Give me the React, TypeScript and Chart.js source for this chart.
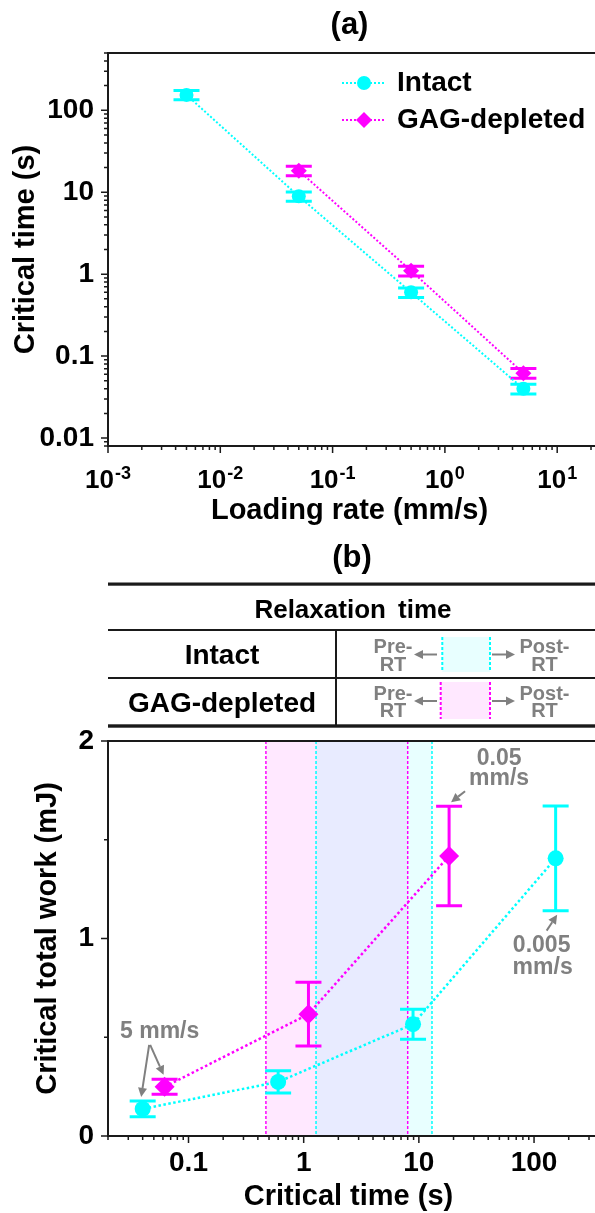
import React, { useEffect, useRef } from 'react';
import { Chart, registerables } from 'chart.js';

Chart.register(...registerables);

const FAMILY = '"Liberation Sans", Arial, Helvetica, sans-serif';
const CYAN = '#00ffff';
const MAGENTA = '#ff00ff';
const GRAY = '#808080';
const INK = '#1a1a1a';

// ---------------- data: panel (a) ----------------
const loadingRates = [0.005, 0.05, 0.5, 5];
const intactTime = [154, 8.9, 0.6, 0.04];
const intactTimeErr = [20, 1.15, 0.08, 0.0055];
const gagRates = [0.05, 0.5, 5];
const gagTime = [18.3, 1.1, 0.062];
const gagTimeErr = [2.4, 0.15, 0.0085];
const aXTicks = [0.001, 0.01, 0.1, 1, 10];
const aXTickExp = ['-3', '-2', '-1', '0', '1'];
const aYTicks = [0.01, 0.1, 1, 10, 100];
const aYTickLabels = ['0.01', '0.1', '1', '10', '100'];

// ---------------- data: panel (b) ----------------
const intactWork = [1.406, 0.566, 0.274, 0.137];
const intactWorkErr = [0.265, 0.076, 0.056, 0.04];
const gagWork = [1.418, 0.617, 0.249];
const gagWorkErr = [0.252, 0.161, 0.038];
const intactRT = [1.28, 13];
const gagRT = [0.47, 8.0];
const bXTicks = [0.1, 1, 10, 100];
const bXTickLabels = ['0.1', '1', '10', '100'];
const bYTicks = [0, 1, 2];
const bYTickLabels = ['0', '1', '2'];
const bYMinor = [0.5, 1.5];

const A_X = [0.001, 20];
const A_Y = [0.008, 500];
const B_X = [0.02, 300];
const B_Y = [0, 2];

type TickV = { v: number; major: boolean };

function logTickValues(min: number, max: number): TickV[] {
  const out: TickV[] = [];
  const e0 = Math.floor(Math.log10(min));
  const e1 = Math.ceil(Math.log10(max));
  for (let e = e0; e <= e1; e++) {
    for (let m = 1; m < 10; m++) {
      const v = m * Math.pow(10, e);
      if (v >= min * 0.9999 && v <= max * 1.0001) out.push({ v, major: m === 1 });
    }
  }
  return out;
}

function drawArrow(ctx: CanvasRenderingContext2D, x0: number, y0: number, x1: number, y1: number) {
  const head = 9;
  const half = 4.5;
  const ang = Math.atan2(y1 - y0, x1 - x0);
  const bx = x1 - Math.cos(ang) * head;
  const by = y1 - Math.sin(ang) * head;
  ctx.save();
  ctx.strokeStyle = GRAY;
  ctx.fillStyle = GRAY;
  ctx.lineWidth = 2;
  ctx.setLineDash([]);
  ctx.beginPath();
  ctx.moveTo(x0, y0);
  ctx.lineTo(bx, by);
  ctx.stroke();
  ctx.beginPath();
  ctx.moveTo(x1, y1);
  ctx.lineTo(bx + Math.sin(ang) * half, by - Math.cos(ang) * half);
  ctx.lineTo(bx - Math.sin(ang) * half, by + Math.cos(ang) * half);
  ctx.closePath();
  ctx.fill();
  ctx.restore();
}

function drawMarker(ctx: CanvasRenderingContext2D, style: string, x: number, y: number, r: number, color: string) {
  ctx.save();
  ctx.fillStyle = color;
  ctx.beginPath();
  if (style === 'circle') {
    ctx.arc(x, y, r, 0, Math.PI * 2);
  } else {
    ctx.moveTo(x, y - r);
    ctx.lineTo(x + r, y);
    ctx.lineTo(x, y + r);
    ctx.lineTo(x - r, y);
    ctx.closePath();
  }
  ctx.fill();
  ctx.restore();
}

function drawErrorBars(chart: any, xs: number[], ys: number[], es: number[], color: string, capHalf: number) {
  const { ctx, scales } = chart;
  const x = scales.x;
  const y = scales.y;
  ctx.save();
  ctx.strokeStyle = color;
  ctx.lineWidth = 3;
  ctx.setLineDash([]);
  xs.forEach((xv, i) => {
    const px = x.getPixelForValue(xv);
    const top = y.getPixelForValue(ys[i] + es[i]);
    const bot = y.getPixelForValue(ys[i] - es[i]);
    ctx.beginPath();
    ctx.moveTo(px, top);
    ctx.lineTo(px, bot);
    ctx.moveTo(px - capHalf, top);
    ctx.lineTo(px + capHalf, top);
    ctx.moveTo(px - capHalf, bot);
    ctx.lineTo(px + capHalf, bot);
    ctx.stroke();
  });
  ctx.restore();
}

function drawFrame(chart: any, xTicks: TickV[], yTicks: TickV[]) {
  const { ctx, chartArea: ca, scales } = chart;
  const x = scales.x;
  const y = scales.y;
  ctx.save();
  ctx.setLineDash([]);
  ctx.strokeStyle = INK;
  ctx.lineWidth = 2;
  ctx.beginPath();
  ctx.moveTo(ca.left, ca.top);
  ctx.lineTo(chart.width, ca.top);
  ctx.moveTo(ca.left, ca.top - 1);
  ctx.lineTo(ca.left, ca.bottom + 1);
  ctx.moveTo(ca.left - 1, ca.bottom);
  ctx.lineTo(chart.width, ca.bottom);
  ctx.stroke();
  ctx.lineWidth = 1.5;
  ctx.beginPath();
  for (const t of xTicks) {
    const px = x.getPixelForValue(t.v);
    ctx.moveTo(px, ca.bottom);
    ctx.lineTo(px, ca.bottom + (t.major ? 7 : 4));
  }
  for (const t of yTicks) {
    const py = y.getPixelForValue(t.v);
    ctx.moveTo(ca.left, py);
    ctx.lineTo(ca.left - (t.major ? 7 : 4), py);
  }
  ctx.stroke();
  ctx.restore();
}

const tickFont = { family: FAMILY, size: 28, weight: 'bold' as const };
const titleFont = { family: FAMILY, size: 29, weight: 'bold' as const };

function makeChartA(canvas: HTMLCanvasElement) {
  const plugin = {
    id: 'panelA',
    beforeDatasetsDraw(chart: any) {
      drawErrorBars(chart, loadingRates, intactTime, intactTimeErr, CYAN, 13);
      drawErrorBars(chart, gagRates, gagTime, gagTimeErr, MAGENTA, 13);
    },
    afterDraw(chart: any) {
      const { ctx, chartArea: ca, scales } = chart;
      drawFrame(chart, logTickValues(A_X[0], A_X[1]), logTickValues(A_Y[0], A_Y[1]));
      // superscript x tick labels
      ctx.save();
      ctx.fillStyle = '#000';
      ctx.textBaseline = 'alphabetic';
      ctx.textAlign = 'left';
      const base = `bold 26px ${FAMILY}`;
      const sup = `bold 18px ${FAMILY}`;
      aXTicks.forEach((v, i) => {
        const px = scales.x.getPixelForValue(v);
        ctx.font = base;
        const wb = ctx.measureText('10').width;
        ctx.font = sup;
        const we = ctx.measureText(aXTickExp[i]).width;
        const start = px - (wb + 1 + we) / 2;
        ctx.font = base;
        ctx.fillText('10', start, ca.bottom + 42);
        ctx.font = sup;
        ctx.fillText(aXTickExp[i], start + wb + 1, ca.bottom + 33);
      });
      // panel label
      ctx.textAlign = 'center';
      ctx.textBaseline = 'middle';
      ctx.font = `bold 31px ${FAMILY}`;
      ctx.fillText('(a)', (ca.left + ca.right) / 2, 25);
      // legend
      const entries = [
        { label: 'Intact', color: CYAN, style: 'circle', r: 7, y: 83 },
        { label: 'GAG-depleted', color: MAGENTA, style: 'diamond', r: 8, y: 120 },
      ];
      for (const e of entries) {
        ctx.save();
        ctx.strokeStyle = e.color;
        ctx.lineWidth = 2;
        ctx.setLineDash([2, 2]);
        ctx.beginPath();
        ctx.moveTo(342, e.y);
        ctx.lineTo(386, e.y);
        ctx.stroke();
        ctx.restore();
        drawMarker(ctx, e.style, 364, e.y, e.r, e.color);
        ctx.fillStyle = '#000';
        ctx.font = `bold 28px ${FAMILY}`;
        ctx.textAlign = 'left';
        ctx.textBaseline = 'middle';
        ctx.fillText(e.label, 397, e.y);
      }
      ctx.restore();
    },
  };

  return new Chart(canvas, {
    type: 'scatter',
    data: {
      datasets: [
        {
          label: 'Intact',
          data: loadingRates.map((r, i) => ({ x: r, y: intactTime[i] })),
          showLine: true,
          borderColor: CYAN,
          backgroundColor: CYAN,
          borderWidth: 2,
          borderDash: [2, 2],
          pointStyle: 'circle',
          pointRadius: 7,
          pointBorderWidth: 0,
          pointBackgroundColor: CYAN,
        },
        {
          label: 'GAG-depleted',
          data: gagRates.map((r, i) => ({ x: r, y: gagTime[i] })),
          showLine: true,
          borderColor: MAGENTA,
          backgroundColor: MAGENTA,
          borderWidth: 2,
          borderDash: [2, 2],
          pointStyle: 'rectRot',
          pointRadius: 8,
          pointBorderWidth: 0,
          pointBackgroundColor: MAGENTA,
        },
      ],
    },
    options: {
      responsive: false,
      animation: false,
      devicePixelRatio: 1,
      events: [],
      layout: { padding: { top: 53, left: 0, right: 0, bottom: 0 } },
      plugins: { legend: { display: false }, tooltip: { enabled: false }, title: { display: false } },
      scales: {
        x: {
          type: 'logarithmic',
          position: 'bottom',
          min: A_X[0],
          max: A_X[1],
          grid: { display: false, drawTicks: false },
          border: { display: false },
          ticks: { display: false },
          title: {
            display: true,
            text: 'Loading rate (mm/s)',
            color: '#000',
            font: titleFont,
            padding: { top: 0, bottom: 12 },
          },
          afterFit: (s: any) => {
            s.height = 94;
          },
        },
        y: {
          type: 'logarithmic',
          position: 'left',
          min: A_Y[0],
          max: A_Y[1],
          grid: { display: false, drawTicks: false },
          border: { display: false },
          afterBuildTicks: (s: any) => {
            s.ticks = aYTicks.map((v) => ({ value: v }));
          },
          ticks: {
            autoSkip: false,
            color: '#000',
            font: tickFont,
            padding: 14,
            callback: (_v: any, i: number) => aYTickLabels[i],
          },
          title: {
            display: true,
            text: 'Critical time (s)',
            color: '#000',
            font: titleFont,
            padding: { top: 9, bottom: 0 },
          },
          afterFit: (s: any) => {
            s.width = 108;
          },
        },
      },
    } as any,
    plugins: [plugin],
  });
}

function makeChartB(canvas: HTMLCanvasElement) {
  const plugin = {
    id: 'panelB',
    beforeDatasetsDraw(chart: any) {
      const { ctx, chartArea: ca, scales } = chart;
      const x = scales.x;
      const band = (range: number[], fill: string) => {
        const x0 = x.getPixelForValue(range[0]);
        const x1 = x.getPixelForValue(range[1]);
        ctx.fillStyle = fill;
        ctx.fillRect(x0, ca.top, x1 - x0, ca.bottom - ca.top);
      };
      ctx.save();
      band(gagRT, 'rgba(255,0,255,0.09)');
      band(intactRT, 'rgba(0,255,255,0.09)');
      const dashed = (v: number, color: string) => {
        const px = x.getPixelForValue(v);
        ctx.strokeStyle = color;
        ctx.lineWidth = 1.5;
        ctx.setLineDash([3, 2]);
        ctx.beginPath();
        ctx.moveTo(px, ca.top);
        ctx.lineTo(px, ca.bottom);
        ctx.stroke();
      };
      gagRT.forEach((v) => dashed(v, MAGENTA));
      intactRT.forEach((v) => dashed(v, CYAN));
      ctx.restore();
      drawErrorBars(chart, intactTime, intactWork, intactWorkErr, CYAN, 13);
      drawErrorBars(chart, gagTime, gagWork, gagWorkErr, MAGENTA, 13);
    },
    afterDraw(chart: any) {
      const { ctx, scales } = chart;
      const x = scales.x;
      const y = scales.y;
      const yMinor: TickV[] = [
        ...bYTicks.map((v) => ({ v, major: true })),
        ...bYMinor.map((v) => ({ v, major: false })),
      ];
      drawFrame(chart, logTickValues(B_X[0], B_X[1]), yMinor);

      const setText = () => {
        ctx.fillStyle = GRAY;
        ctx.font = `bold 23px ${FAMILY}`;
        ctx.textAlign = 'center';
        ctx.textBaseline = 'middle';
      };
      ctx.save();

      // 0.05 mm/s -> GAG-depleted point at 0.05 mm/s (index 0)
      const gx = x.getPixelForValue(gagTime[0]);
      const gTop = y.getPixelForValue(gagWork[0] + gagWorkErr[0]);
      setText();
      ctx.fillText('0.05', gx + 50, gTop - 48);
      ctx.fillText('mm/s', gx + 50, gTop - 28);
      drawArrow(ctx, gx + 16, gTop - 15, gx + 2, gTop - 4);

      // 0.005 mm/s -> intact point at 0.005 mm/s (index 0)
      const ix = x.getPixelForValue(intactTime[0]);
      const iBot = y.getPixelForValue(intactWork[0] - intactWorkErr[0]);
      setText();
      ctx.fillText('0.005', ix - 14, iBot + 35);
      ctx.fillText('mm/s', ix - 13, iBot + 57);
      drawArrow(ctx, ix - 9, iBot + 20, ix + 1.5, iBot + 4);

      // 5 mm/s -> both points at 5 mm/s
      const p1x = x.getPixelForValue(intactTime[3]);
      const p1y = y.getPixelForValue(intactWork[3]);
      const p2x = x.getPixelForValue(gagTime[2]);
      const p2y = y.getPixelForValue(gagWork[2]);
      setText();
      ctx.fillText('5 mm/s', p1x + 17, p1y - 77);
      drawArrow(ctx, p1x + 6.5, p1y - 64, p1x - 1.5, p1y - 12);
      drawArrow(ctx, p1x + 7.5, p1y - 64, p2x - 1, p2y - 12);
      ctx.restore();
    },
  };

  return new Chart(canvas, {
    type: 'scatter',
    data: {
      datasets: [
        {
          label: 'Intact',
          data: intactTime.map((t, i) => ({ x: t, y: intactWork[i] })),
          showLine: true,
          borderColor: CYAN,
          backgroundColor: CYAN,
          borderWidth: 2.5,
          borderDash: [2.5, 2.5],
          pointStyle: 'circle',
          pointRadius: 8,
          pointBorderWidth: 0,
          pointBackgroundColor: CYAN,
        },
        {
          label: 'GAG-depleted',
          data: gagTime.map((t, i) => ({ x: t, y: gagWork[i] })),
          showLine: true,
          borderColor: MAGENTA,
          backgroundColor: MAGENTA,
          borderWidth: 2.5,
          borderDash: [2.5, 2.5],
          pointStyle: 'rectRot',
          pointRadius: 10,
          pointBorderWidth: 0,
          pointBackgroundColor: MAGENTA,
        },
      ],
    },
    options: {
      responsive: false,
      animation: false,
      devicePixelRatio: 1,
      events: [],
      layout: { padding: { top: 31, left: 0, right: 0, bottom: 0 } },
      plugins: { legend: { display: false }, tooltip: { enabled: false }, title: { display: false } },
      scales: {
        x: {
          type: 'logarithmic',
          position: 'bottom',
          min: B_X[0],
          max: B_X[1],
          grid: { display: false, drawTicks: false },
          border: { display: false },
          afterBuildTicks: (s: any) => {
            s.ticks = bXTicks.map((v) => ({ value: v }));
          },
          ticks: {
            autoSkip: false,
            maxRotation: 0,
            color: '#000',
            font: tickFont,
            padding: 10,
            callback: (_v: any, i: number) => bXTickLabels[i],
          },
          title: {
            display: true,
            text: 'Critical time (s)',
            color: '#000',
            font: titleFont,
            padding: { top: 0, bottom: 4 },
          },
          afterFit: (s: any) => {
            s.height = 82;
          },
        },
        y: {
          type: 'linear',
          position: 'left',
          min: B_Y[0],
          max: B_Y[1],
          grid: { display: false, drawTicks: false },
          border: { display: false },
          afterBuildTicks: (s: any) => {
            s.ticks = bYTicks.map((v) => ({ value: v }));
          },
          ticks: {
            autoSkip: false,
            color: '#000',
            font: tickFont,
            padding: 14,
            callback: (_v: any, i: number) => bYTickLabels[i],
          },
          title: {
            display: true,
            text: 'Critical total work (mJ)',
            color: '#000',
            font: titleFont,
            padding: { top: 31, bottom: 0 },
          },
          afterFit: (s: any) => {
            s.width = 108;
          },
        },
      },
    } as any,
    plugins: [plugin],
  });
}

function IconRow({ yc, top, bottom, left, color, fill }: { yc: number; top: number; bottom: number; left: number; color: string; fill: string }) {
  const right = 490;
  const textProps = { fontFamily: FAMILY, fontWeight: 'bold' as const, fontSize: 20, fill: GRAY, textAnchor: 'middle' as const, dominantBaseline: 'central' as const };
  return (
    <g>
      <text x={393} y={yc - 8.5} {...textProps}>Pre-</text>
      <text x={393} y={yc + 9} {...textProps}>RT</text>
      <line x1={437} y1={yc} x2={422} y2={yc} stroke={GRAY} strokeWidth={2} />
      <polygon points={`${414},${yc} ${423},${yc - 4.5} ${423},${yc + 4.5}`} fill={GRAY} />
      <rect x={left} y={top} width={right - left} height={bottom - top} fill={fill} />
      <line x1={left} y1={top} x2={left} y2={bottom} stroke={color} strokeWidth={2} strokeDasharray="3 2" />
      <line x1={right} y1={top} x2={right} y2={bottom} stroke={color} strokeWidth={2} strokeDasharray="3 2" />
      <line x1={492} y1={yc} x2={507} y2={yc} stroke={GRAY} strokeWidth={2} />
      <polygon points={`${515},${yc} ${506},${yc - 4.5} ${506},${yc + 4.5}`} fill={GRAY} />
      <text x={544.5} y={yc - 8.5} {...textProps}>Post-</text>
      <text x={544.5} y={yc + 9} {...textProps}>RT</text>
    </g>
  );
}

function Table() {
  const t = { fontFamily: FAMILY, fontWeight: 'bold' as const, fill: '#000', textAnchor: 'middle' as const, dominantBaseline: 'central' as const };
  return (
    <svg
      style={{ position: 'absolute', left: 0, top: 530, display: 'block' }}
      width={599}
      height={200}
      viewBox="0 530 599 200"
    >
      <text x={352} y={556} fontSize={31} {...t}>(b)</text>
      <rect x={108} y={582.5} width={491} height={3.2} fill={INK} />
      <text x={353} y={609} fontSize={26} wordSpacing={5} {...t}>Relaxation time</text>
      <rect x={108} y={629} width={491} height={2} fill={INK} />
      <rect x={335} y={630} width={2} height={95} fill={INK} />
      <rect x={108} y={677} width={491} height={2} fill={INK} />
      <rect x={108} y={724.3} width={491} height={3.4} fill={INK} />
      <text x={222} y={654} fontSize={28} {...t}>Intact</text>
      <text x={222} y={702} fontSize={28} {...t}>GAG-depleted</text>
      <IconRow yc={654.5} top={637} bottom={672} left={442.3} color={CYAN} fill="rgba(0,255,255,0.09)" />
      <IconRow yc={701} top={682} bottom={719} left={440.7} color={MAGENTA} fill="rgba(255,0,255,0.09)" />
    </svg>
  );
}

export default function App() {
  const refA = useRef<HTMLCanvasElement | null>(null);
  const refB = useRef<HTMLCanvasElement | null>(null);

  useEffect(() => {
    Chart.defaults.font.family = FAMILY;
    const a = refA.current ? makeChartA(refA.current) : null;
    const b = refB.current ? makeChartB(refB.current) : null;
    return () => {
      a?.destroy();
      b?.destroy();
    };
  }, []);

  return (
    <div
      style={{
        position: 'absolute',
        left: 0,
        top: 0,
        width: 595,
        height: 1213,
        overflow: 'hidden',
        background: '#fff',
      }}
    >
      <canvas
        ref={refA}
        width={599}
        height={540}
        style={{ position: 'absolute', left: 0, top: 0, width: 599, height: 540, display: 'block' }}
      />
      <Table />
      <canvas
        ref={refB}
        width={599}
        height={508}
        style={{ position: 'absolute', left: 0, top: 710, width: 599, height: 508, display: 'block' }}
      />
    </div>
  );
}
